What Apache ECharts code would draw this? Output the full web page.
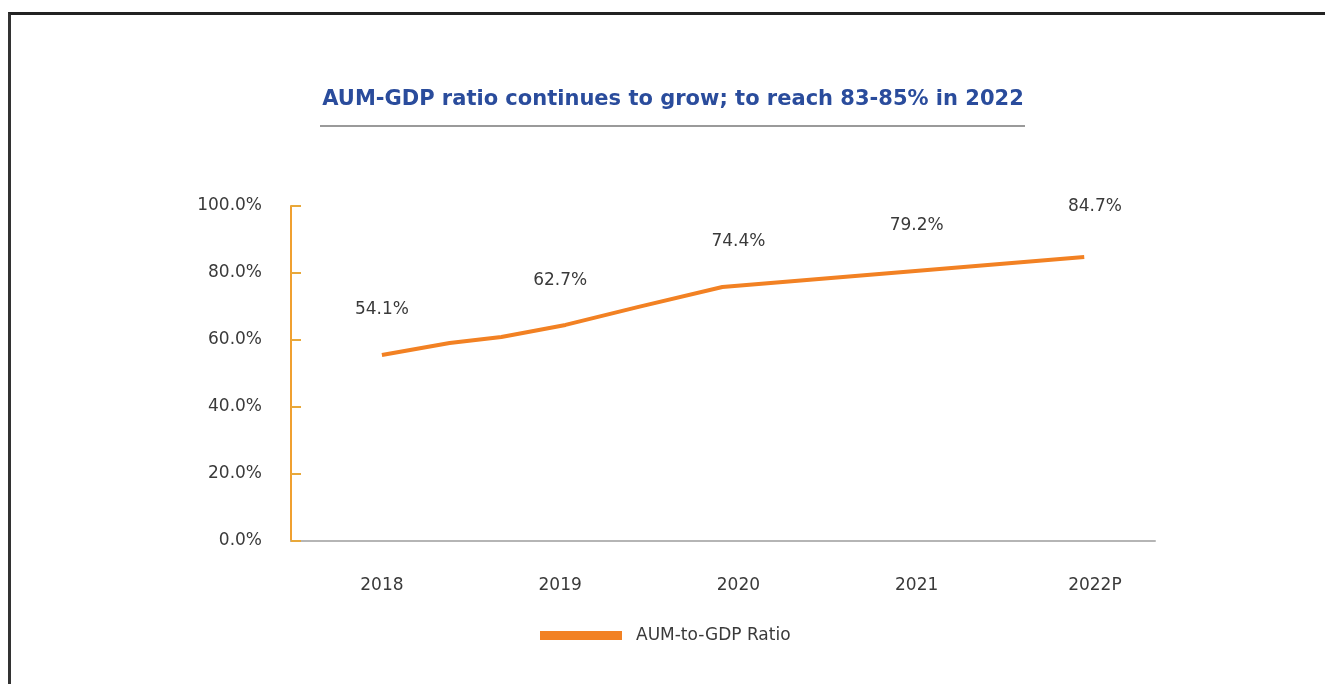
<!DOCTYPE html>
<html>
<head>
<meta charset="utf-8">
<script src="https://cdn.jsdelivr.net/npm/echarts@6/dist/echarts.min.js"></script>
<style>
html,body{margin:0;padding:0;background:#fff;}
#frame{position:absolute;left:8px;top:12px;width:1317px;height:672px;border-top:3px solid #222;border-left:3px solid #333;box-sizing:border-box;}
#chart{position:absolute;left:0;top:0;width:1325px;height:684px;}
</style>
</head>
<body>
<div id="frame"></div>
<div id="chart"></div>
<script>
// Categories and values
var years = ['2018', '2019', '2020', '2021', '2022P'];
var ratioLabels = [54.1, 62.7, 74.4, 79.2, 84.7];
// Drawn line vertices (year position, ratio %)
var lineX = [0, 0.38, 0.67, 1.03, 1.44, 1.91, 3.94];
var lineY = [55.5, 59.1, 60.9, 64.5, 69.9, 75.8, 84.8];
var yTicks = [0, 20, 40, 60, 80, 100];

var FONT = 'DejaVu Sans';
var TXT = '#3a3a3a';
var chart = echarts.init(document.getElementById('chart'), null, {renderer: 'canvas'});

var linePairs = lineX.map(function (x, i) { return [x, lineY[i]]; });
var labelPairs = ratioLabels.map(function (v, i) { return [i, v]; });

chart.setOption({
  animation: false,
  backgroundColor: 'transparent',
  title: {
    text: 'AUM-GDP ratio continues to grow; to reach 83-85% in 2022',
    left: 668, top: 84, textAlign: 'center',
    textStyle: {color: '#2A4C9C', fontFamily: 'DejaVu Sans', fontWeight: 'bold', fontSize: 21}
  },
  graphic: [{
    type: 'line', shape: {x1: 320, y1: 126, x2: 1025, y2: 126},
    style: {stroke: '#9a9a9a', lineWidth: 2}
  }],
  legend: {
    data: ['AUM-to-GDP Ratio'],
    left: 535, top: 622,
    itemWidth: 82, itemHeight: 9, itemGap: 10,
    icon: 'rect',
    textStyle: {color: TXT, fontFamily: FONT, fontSize: 17, padding: [0, 0, 0, 9]}
  },
  grid: {left: 291, right: 170, top: 206, bottom: 143, containLabel: false},
  xAxis: {
    type: 'value', min: -0.51, max: 4.337,
    splitLine: {show: false},
    axisLine: {show: true, onZero: false, lineStyle: {color: '#b5b5b5', width: 2}},
    axisTick: {show: false},
    axisLabel: {
      customValues: [0, 1, 2, 3, 4],
      formatter: function (v) { return years[Math.round(v)]; },
      color: TXT, fontFamily: FONT, fontSize: 17, margin: 36
    }
  },
  yAxis: {
    type: 'value', min: 0, max: 100, interval: 20,
    splitLine: {show: false},
    axisLine: {show: true, onZero: false, lineStyle: {color: '#F0A030', width: 2}},
    axisTick: {show: true, inside: true, length: 10, lineStyle: {color: '#E8A83A', width: 2},
      customValues: yTicks},
    axisLabel: {
      customValues: yTicks,
      formatter: function (v) { return v.toFixed(1) + '%'; },
      color: TXT, fontFamily: FONT, fontSize: 17, margin: 29
    }
  },
  series: [
    {
      name: 'AUM-to-GDP Ratio', type: 'line',
      data: linePairs,
      showSymbol: false, symbol: 'none',
      lineStyle: {color: '#F28123', width: 4},
      itemStyle: {color: '#F28123'}
    },
    {
      name: 'labels', type: 'scatter',
      data: labelPairs,
      symbolSize: 0,
      itemStyle: {color: '#ffffff', opacity: 1},
      label: {
        show: true, position: 'top', distance: 42, opacity: 1,
        formatter: function (p) { return p.value[1].toFixed(1) + '%'; },
        color: TXT, fontFamily: FONT, fontSize: 17
      },
      silent: true
    }
  ]
});
</script>
</body>
</html>
